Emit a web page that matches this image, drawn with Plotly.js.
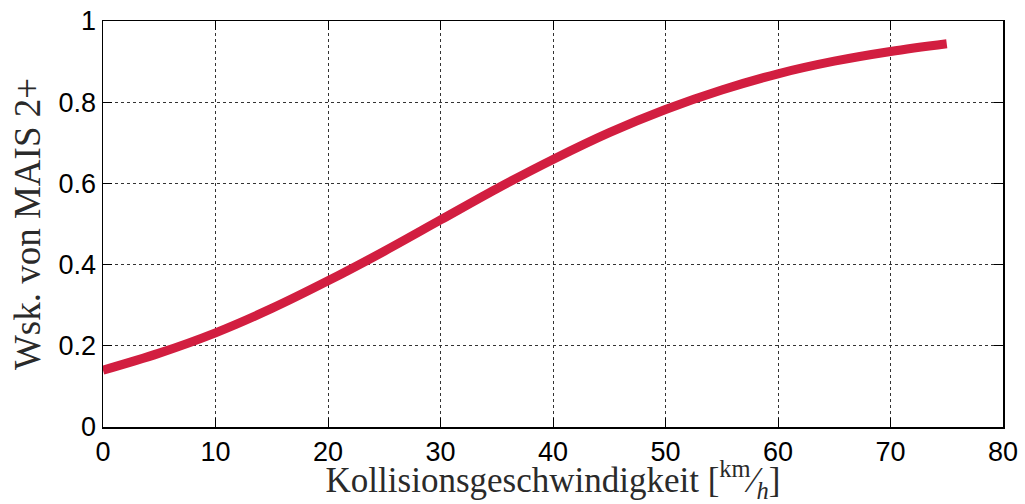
<!DOCTYPE html>
<html>
<head>
<meta charset="utf-8">
<script src="https://cdn.plot.ly/plotly-3.0.1.min.js"></script>
<style>html,body{margin:0;padding:0;background:#fff;}#chart{width:1025px;height:504px;}</style>
</head>
<body>
<div id="chart"></div>
<script>
var speed = [0, 5, 10, 15, 20, 25, 30, 35, 40, 45, 50, 55, 60, 65, 70, 75];
var probMAIS2 = [0.140, 0.182, 0.232, 0.292, 0.360, 0.433, 0.510, 0.587, 0.659, 0.725, 0.782, 0.830, 0.870, 0.901, 0.925, 0.944];
var xTicks = [0, 10, 20, 30, 40, 50, 60, 70, 80];
var yTicks = [0, 0.2, 0.4, 0.6, 0.8, 1];
var yTickText = ['0', '0.2', '0.4', '0.6', '0.8', '1'];

var trace = {
  x: speed, y: probMAIS2, type: 'scatter', mode: 'lines',
  line: {color: '#d21e40', width: 9, shape: 'spline'},
  hoverinfo: 'skip'
};
var axisCommon = {
  showline: true, linecolor: '#000', linewidth: 1.5, mirror: 'ticks',
  ticks: 'inside', ticklen: 9, tickwidth: 1, tickcolor: '#000',
  showgrid: true, gridcolor: '#333', griddash: 'dot', gridwidth: 1,
  zeroline: false,
  tickfont: {family: 'Liberation Sans, Arial, sans-serif', size: 27, color: '#000'}
};
var layout = {
  width: 1025, height: 504,
  margin: {l: 103, r: 22, t: 21, b: 77},
  paper_bgcolor: '#fff', plot_bgcolor: '#fff',
  showlegend: false,
  xaxis: Object.assign({}, axisCommon, {
    range: [0, 80], tickvals: xTicks, ticktext: xTicks.map(String),
    title: {text: 'Kollisionsgeschwindigkeit [<sup>km</sup>⁄<sub><i>h</i></sub>]', standoff: 3,
      font: {family: 'Liberation Serif, DejaVu Serif, serif', size: 35, color: '#2a2a2a'}}
  }),
  yaxis: Object.assign({}, axisCommon, {
    range: [0, 1], tickvals: yTicks, ticktext: yTickText,
    title: {text: 'Wsk. von MAIS 2+', standoff: 6,
      font: {family: 'Liberation Serif, DejaVu Serif, serif', size: 37, color: '#2a2a2a'}}
  })
};
Plotly.newPlot('chart', [trace], layout, {displayModeBar: false, staticPlot: true});
</script>
</body>
</html>
